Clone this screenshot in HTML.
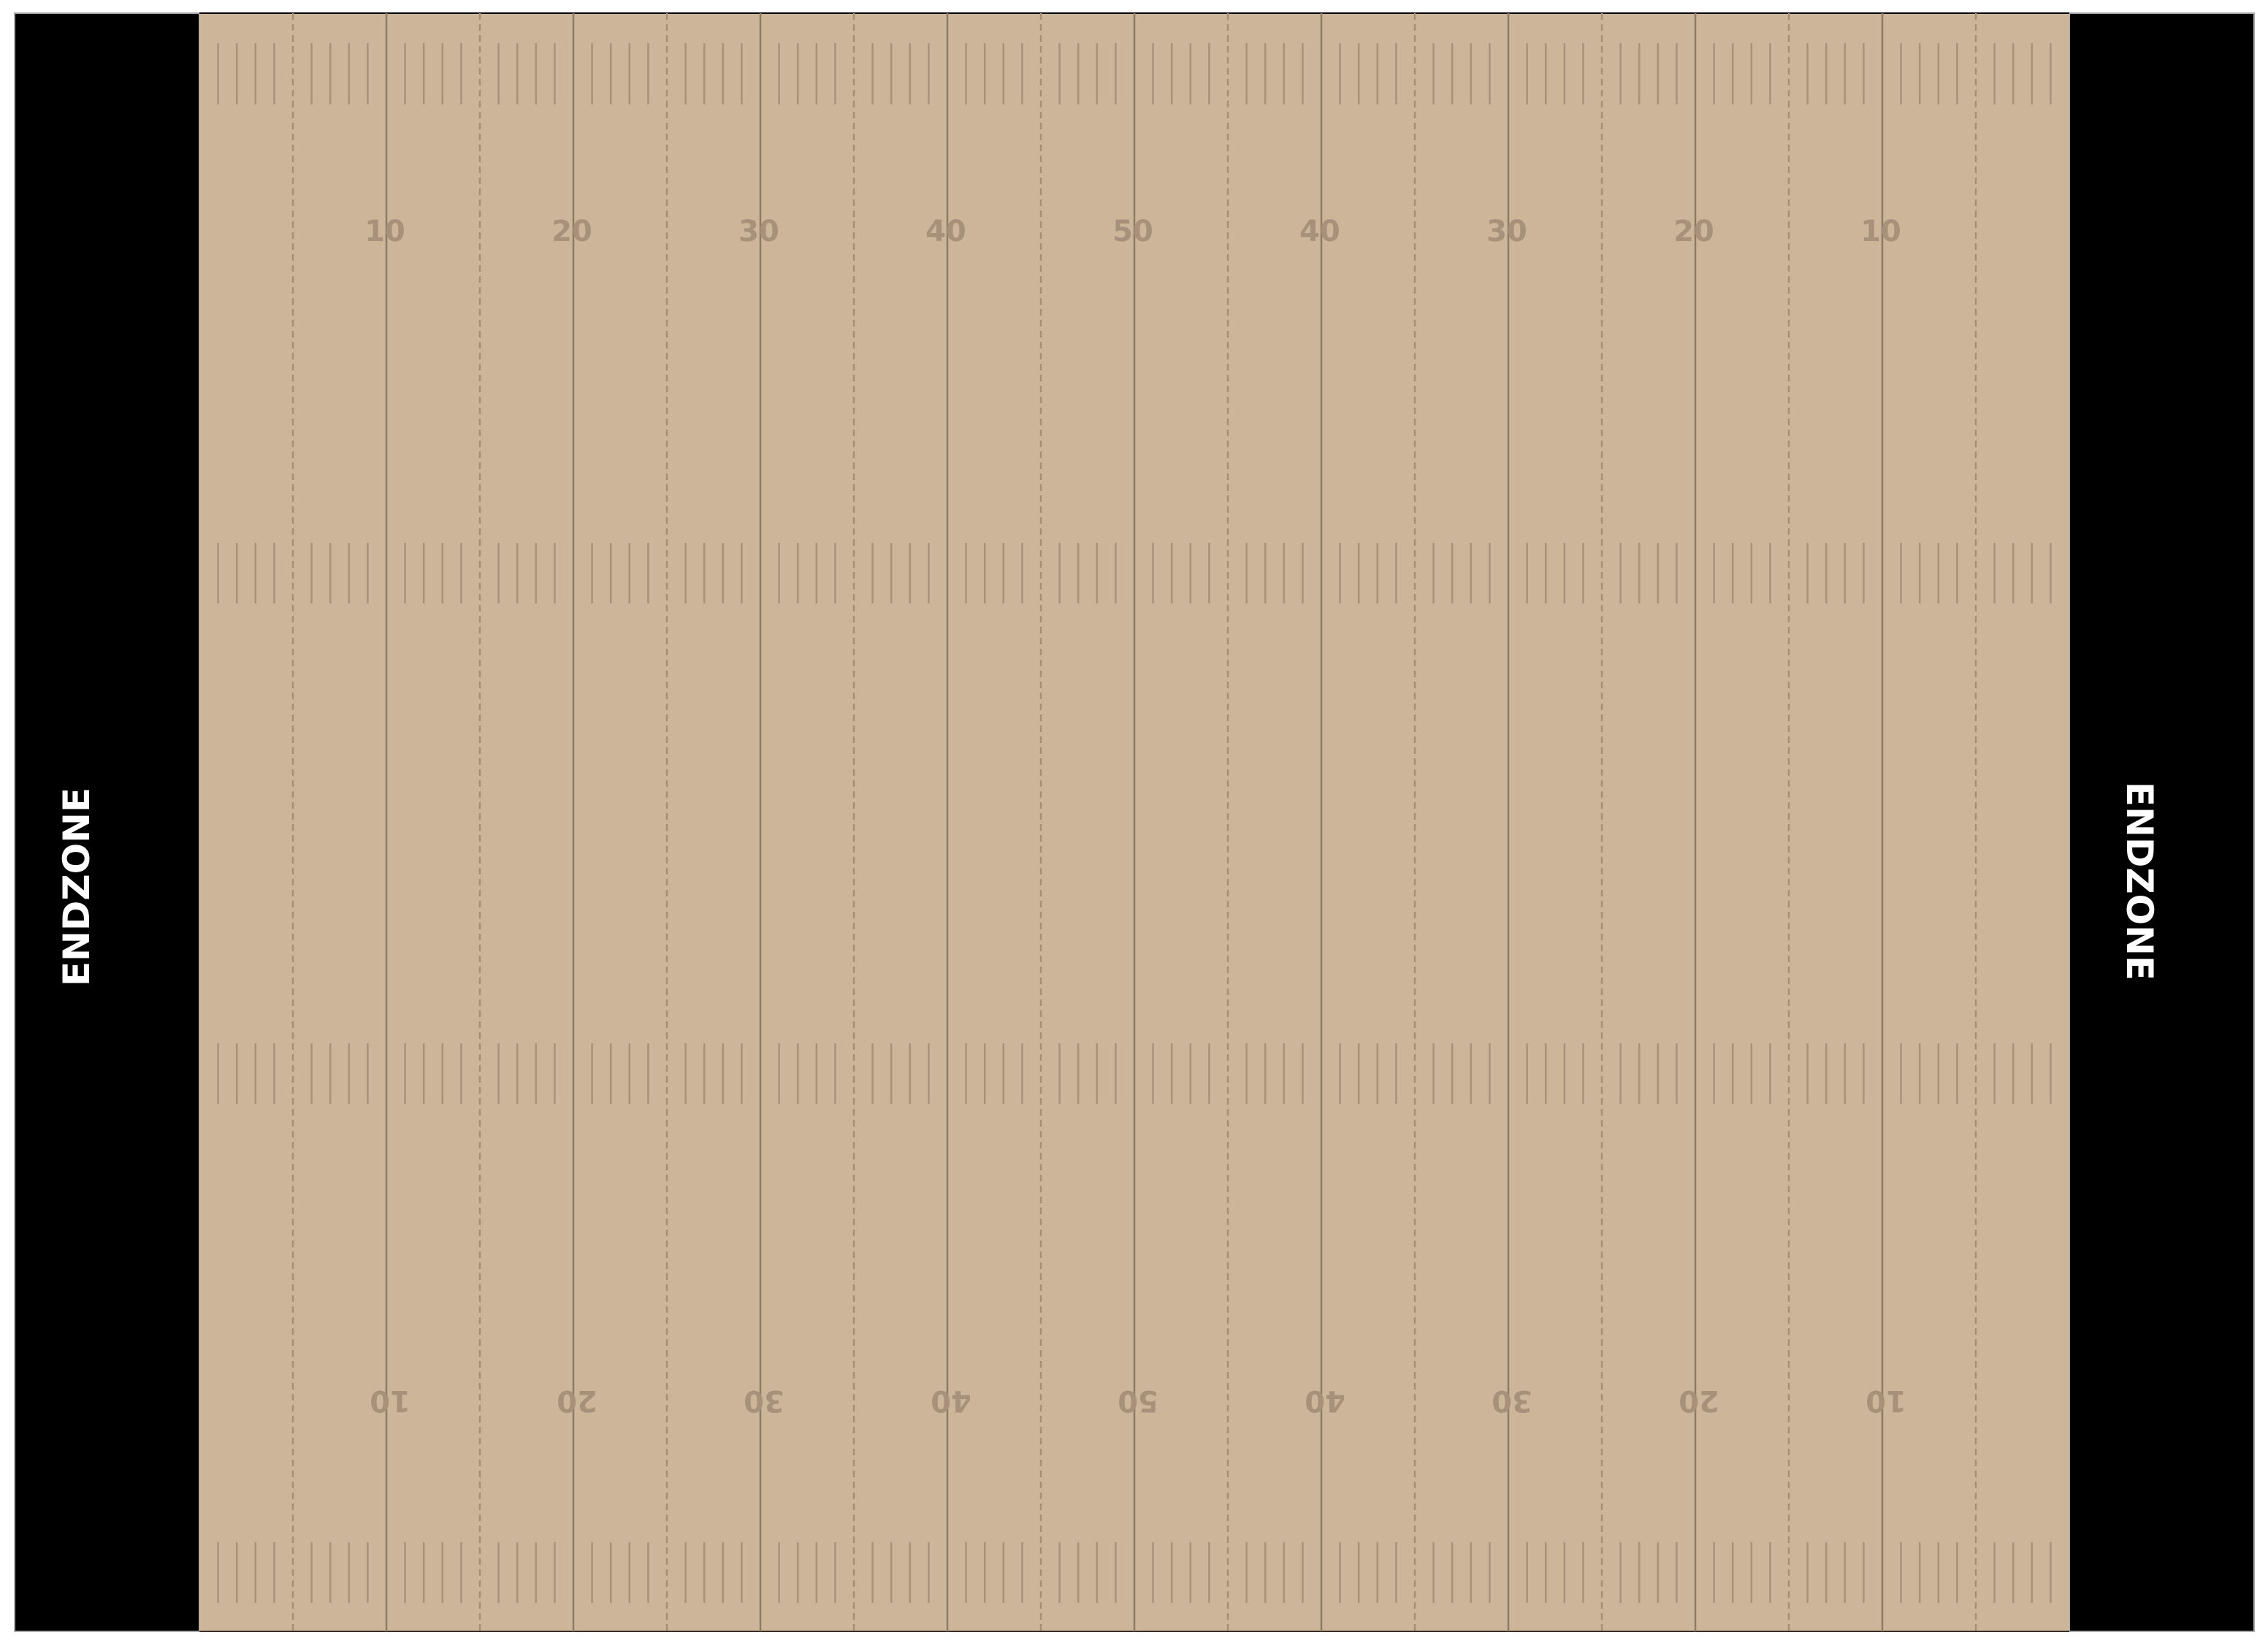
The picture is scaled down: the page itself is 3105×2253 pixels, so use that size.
<!DOCTYPE html>
<html><head><meta charset="utf-8"><style>
html,body{margin:0;padding:0;background:#fff;}
svg{display:block;}
text{font-family:"DejaVu Sans","Liberation Sans",sans-serif;font-weight:bold;}
</style></head><body>
<svg id="chart" width="3105" height="2253" viewBox="0 0 3105 2253" xmlns="http://www.w3.org/2000/svg">
<rect x="20" y="18" width="253" height="2215" fill="#000" stroke="#aaa" stroke-width="2"/>
<rect x="2833" y="18" width="253" height="2215" fill="#000" stroke="#aaa" stroke-width="2"/>
<rect x="273" y="18" width="2560" height="2215" fill="#cdb599"/>
<line x1="273" y1="18" x2="2833" y2="18" stroke="#000" stroke-width="2"/>
<line x1="273" y1="2233" x2="2833" y2="2233" stroke="#3a3025" stroke-width="2"/>
<g id="lines"></g>
<g id="hashes"></g>
<g id="nums"></g>
<text x="105" y="1214" fill="#fff" font-size="50" text-anchor="middle" dominant-baseline="central" transform="rotate(-90 105 1214)">ENDZONE</text>
<text x="2929" y="1206" fill="#fff" font-size="50" text-anchor="middle" dominant-baseline="central" transform="rotate(90 2929 1206)">ENDZONE</text>
</svg>
<script>
const yardLines = [5,10,15,20,25,30,35,40,45,50,55,60,65,70,75,80,85,90,95];
const numberYards = [10,20,30,40,50,60,70,80,90];
const numberLabels = ["10","20","30","40","50","40","30","20","10"];
const hashRows = [[59,143],[743,826],[1428,1511],[2111,2194]];
const NS = "http://www.w3.org/2000/svg";
const x0 = 273, x1 = 2833, yTop = 18, yBot = 2233;
function xs(yd){ return x0 + (x1 - x0) * yd / 100; }
const gl = document.getElementById('lines');
yardLines.forEach(function(yd){
  const l = document.createElementNS(NS,'line');
  const solid = yd % 10 === 0;
  l.setAttribute('x1', xs(yd)); l.setAttribute('x2', xs(yd));
  l.setAttribute('y1', yTop); l.setAttribute('y2', yBot);
  l.setAttribute('stroke', solid ? '#8c7b65' : '#a88f72');
  l.setAttribute('stroke-width', 2.5);
  if(!solid) l.setAttribute('stroke-dasharray','9 6');
  
  
  gl.appendChild(l);
});
const gh = document.getElementById('hashes');
for(let yd = 1; yd < 100; yd++){
  if(yd % 5 === 0) continue;
  hashRows.forEach(function(r){
    const l = document.createElementNS(NS,'line');
    l.setAttribute('x1', xs(yd)); l.setAttribute('x2', xs(yd));
    l.setAttribute('y1', r[0]); l.setAttribute('y2', r[1]);
    l.setAttribute('stroke', '#a8937a');
    l.setAttribute('stroke-width', 2.5);
    
    
    gh.appendChild(l);
  });
}
const gn = document.getElementById('nums');
numberYards.forEach(function(yd, i){
  const t = document.createElementNS(NS,'text');
  t.setAttribute('x', xs(yd) - 2); t.setAttribute('y', 317);
  t.setAttribute('text-anchor','middle'); t.setAttribute('dominant-baseline','central');
  t.setAttribute('font-size', 40); t.setAttribute('fill', '#a8917a');
  t.textContent = numberLabels[i];
  
  
  gn.appendChild(t);
  const b = document.createElementNS(NS,'text');
  const bx = xs(yd) + 5, by = 1917;
  b.setAttribute('x', bx); b.setAttribute('y', by);
  b.setAttribute('text-anchor','middle'); b.setAttribute('dominant-baseline','central');
  b.setAttribute('font-size', 40); b.setAttribute('fill', '#a8917a');
  b.setAttribute('transform', 'rotate(180 ' + bx + ' ' + by + ')');
  b.textContent = numberLabels[i];
  
  
  gn.appendChild(b);
});
</script>
</body></html>
